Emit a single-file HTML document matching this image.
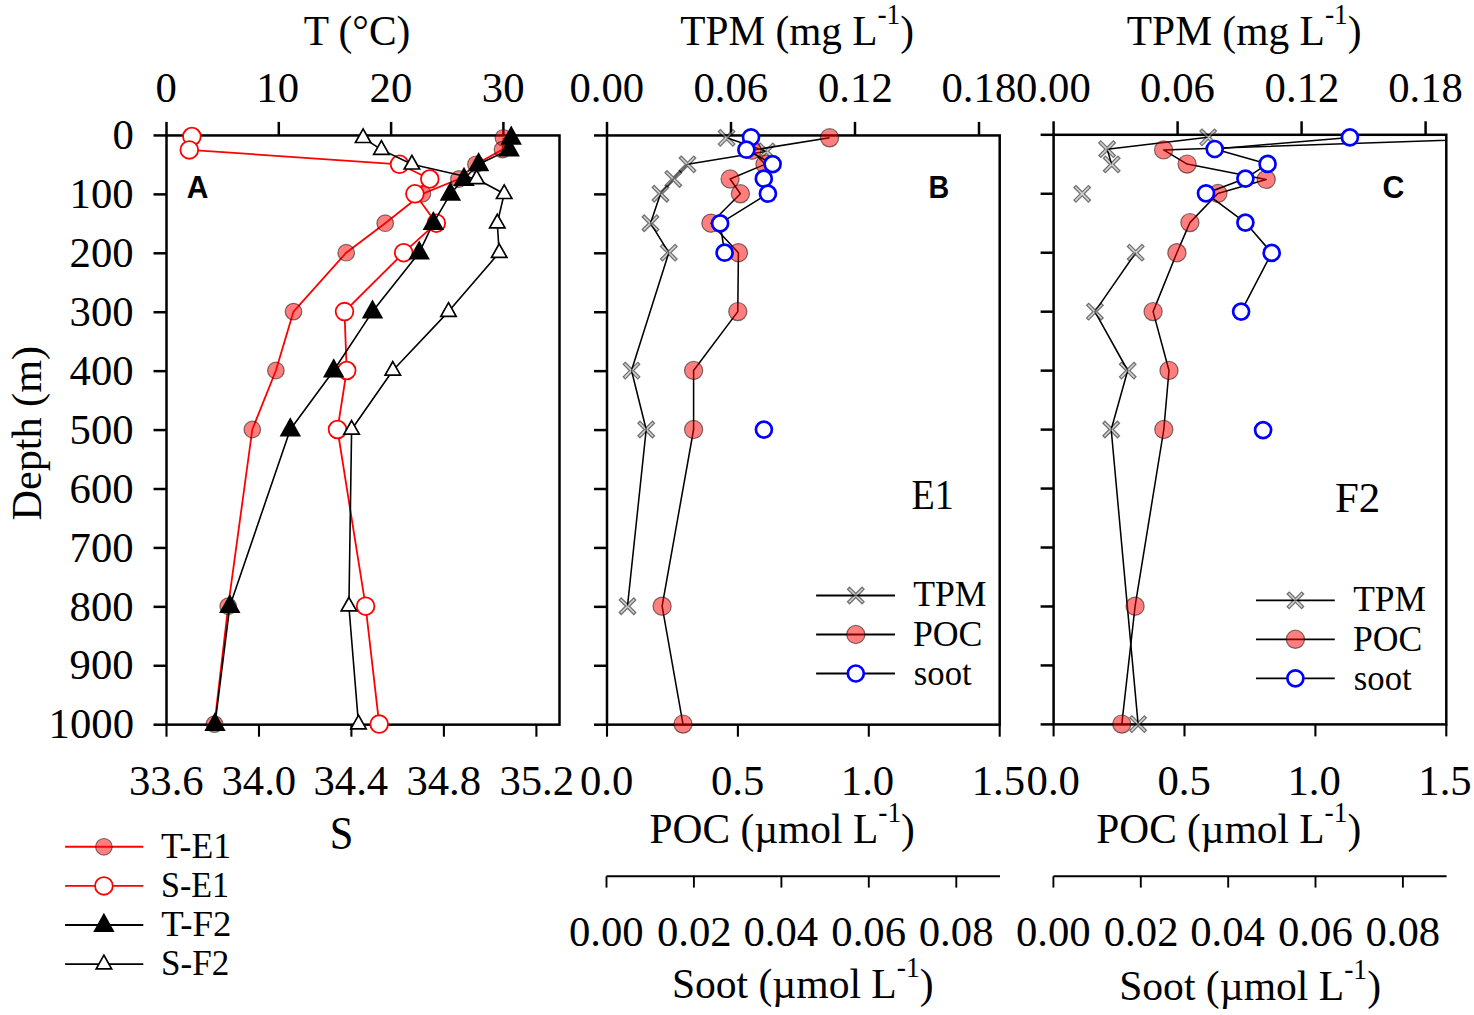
<!DOCTYPE html><html><head><meta charset="utf-8"><style>html,body{margin:0;padding:0;background:#fff;}svg{display:block;}</style></head><body>
<svg width="1474" height="1015" viewBox="0 0 1474 1015">
<rect width="1474" height="1015" fill="#fff"/>
<defs><clipPath id="cA"><rect x="166.5" y="135.45" width="393.0" height="589.25"/></clipPath><clipPath id="cB"><rect x="607.0" y="135.45" width="392.70000000000005" height="589.25"/></clipPath><clipPath id="cC"><rect x="1053.6" y="134.8" width="392.70000000000005" height="589.5999999999999"/></clipPath></defs>
<rect x="166.5" y="135.45" width="393.0" height="589.2" fill="none" stroke="#000" stroke-width="2.5"/>
<line x1="153.5" y1="135.45" x2="166.5" y2="135.45" stroke="#000" stroke-width="2.5"/>
<line x1="153.5" y1="194.38" x2="166.5" y2="194.38" stroke="#000" stroke-width="2.5"/>
<line x1="153.5" y1="253.30" x2="166.5" y2="253.30" stroke="#000" stroke-width="2.5"/>
<line x1="153.5" y1="312.23" x2="166.5" y2="312.23" stroke="#000" stroke-width="2.5"/>
<line x1="153.5" y1="371.15" x2="166.5" y2="371.15" stroke="#000" stroke-width="2.5"/>
<line x1="153.5" y1="430.07" x2="166.5" y2="430.07" stroke="#000" stroke-width="2.5"/>
<line x1="153.5" y1="489.00" x2="166.5" y2="489.00" stroke="#000" stroke-width="2.5"/>
<line x1="153.5" y1="547.92" x2="166.5" y2="547.92" stroke="#000" stroke-width="2.5"/>
<line x1="153.5" y1="606.85" x2="166.5" y2="606.85" stroke="#000" stroke-width="2.5"/>
<line x1="153.5" y1="665.78" x2="166.5" y2="665.78" stroke="#000" stroke-width="2.5"/>
<line x1="153.5" y1="724.70" x2="166.5" y2="724.70" stroke="#000" stroke-width="2.5"/>
<rect x="607.0" y="135.45" width="392.7" height="589.2" fill="none" stroke="#000" stroke-width="2.5"/>
<line x1="594.0" y1="135.45" x2="607.0" y2="135.45" stroke="#000" stroke-width="2.5"/>
<line x1="594.0" y1="194.38" x2="607.0" y2="194.38" stroke="#000" stroke-width="2.5"/>
<line x1="594.0" y1="253.30" x2="607.0" y2="253.30" stroke="#000" stroke-width="2.5"/>
<line x1="594.0" y1="312.23" x2="607.0" y2="312.23" stroke="#000" stroke-width="2.5"/>
<line x1="594.0" y1="371.15" x2="607.0" y2="371.15" stroke="#000" stroke-width="2.5"/>
<line x1="594.0" y1="430.07" x2="607.0" y2="430.07" stroke="#000" stroke-width="2.5"/>
<line x1="594.0" y1="489.00" x2="607.0" y2="489.00" stroke="#000" stroke-width="2.5"/>
<line x1="594.0" y1="547.92" x2="607.0" y2="547.92" stroke="#000" stroke-width="2.5"/>
<line x1="594.0" y1="606.85" x2="607.0" y2="606.85" stroke="#000" stroke-width="2.5"/>
<line x1="594.0" y1="665.78" x2="607.0" y2="665.78" stroke="#000" stroke-width="2.5"/>
<line x1="594.0" y1="724.70" x2="607.0" y2="724.70" stroke="#000" stroke-width="2.5"/>
<rect x="1053.6" y="134.8" width="392.7" height="589.6" fill="none" stroke="#000" stroke-width="2.5"/>
<line x1="1040.6" y1="134.80" x2="1053.6" y2="134.80" stroke="#000" stroke-width="2.5"/>
<line x1="1040.6" y1="193.76" x2="1053.6" y2="193.76" stroke="#000" stroke-width="2.5"/>
<line x1="1040.6" y1="252.72" x2="1053.6" y2="252.72" stroke="#000" stroke-width="2.5"/>
<line x1="1040.6" y1="311.68" x2="1053.6" y2="311.68" stroke="#000" stroke-width="2.5"/>
<line x1="1040.6" y1="370.64" x2="1053.6" y2="370.64" stroke="#000" stroke-width="2.5"/>
<line x1="1040.6" y1="429.60" x2="1053.6" y2="429.60" stroke="#000" stroke-width="2.5"/>
<line x1="1040.6" y1="488.56" x2="1053.6" y2="488.56" stroke="#000" stroke-width="2.5"/>
<line x1="1040.6" y1="547.52" x2="1053.6" y2="547.52" stroke="#000" stroke-width="2.5"/>
<line x1="1040.6" y1="606.48" x2="1053.6" y2="606.48" stroke="#000" stroke-width="2.5"/>
<line x1="1040.6" y1="665.44" x2="1053.6" y2="665.44" stroke="#000" stroke-width="2.5"/>
<line x1="1040.6" y1="724.40" x2="1053.6" y2="724.40" stroke="#000" stroke-width="2.5"/>
<line x1="166.5" y1="121.9" x2="166.5" y2="135.4" stroke="#000" stroke-width="2.5"/>
<line x1="278.8" y1="121.9" x2="278.8" y2="135.4" stroke="#000" stroke-width="2.5"/>
<line x1="391.1" y1="121.9" x2="391.1" y2="135.4" stroke="#000" stroke-width="2.5"/>
<line x1="503.4" y1="121.9" x2="503.4" y2="135.4" stroke="#000" stroke-width="2.5"/>
<line x1="607.0" y1="121.9" x2="607.0" y2="135.4" stroke="#000" stroke-width="2.5"/>
<line x1="731.0" y1="121.9" x2="731.0" y2="135.4" stroke="#000" stroke-width="2.5"/>
<line x1="855.0" y1="121.9" x2="855.0" y2="135.4" stroke="#000" stroke-width="2.5"/>
<line x1="979.0" y1="121.9" x2="979.0" y2="135.4" stroke="#000" stroke-width="2.5"/>
<line x1="1053.6" y1="121.3" x2="1053.6" y2="134.8" stroke="#000" stroke-width="2.5"/>
<line x1="1177.6" y1="121.3" x2="1177.6" y2="134.8" stroke="#000" stroke-width="2.5"/>
<line x1="1301.6" y1="121.3" x2="1301.6" y2="134.8" stroke="#000" stroke-width="2.5"/>
<line x1="1425.6" y1="121.3" x2="1425.6" y2="134.8" stroke="#000" stroke-width="2.5"/>
<line x1="166.5" y1="724.7" x2="166.5" y2="736.7" stroke="#000" stroke-width="2.1"/>
<line x1="259.0" y1="724.7" x2="259.0" y2="736.7" stroke="#000" stroke-width="2.1"/>
<line x1="351.4" y1="724.7" x2="351.4" y2="736.7" stroke="#000" stroke-width="2.1"/>
<line x1="443.9" y1="724.7" x2="443.9" y2="736.7" stroke="#000" stroke-width="2.1"/>
<line x1="536.4" y1="724.7" x2="536.4" y2="736.7" stroke="#000" stroke-width="2.1"/>
<line x1="607.0" y1="724.7" x2="607.0" y2="736.7" stroke="#000" stroke-width="2.1"/>
<line x1="737.9" y1="724.7" x2="737.9" y2="736.7" stroke="#000" stroke-width="2.1"/>
<line x1="868.8" y1="724.7" x2="868.8" y2="736.7" stroke="#000" stroke-width="2.1"/>
<line x1="999.7" y1="724.7" x2="999.7" y2="736.7" stroke="#000" stroke-width="2.1"/>
<line x1="1053.6" y1="724.4" x2="1053.6" y2="736.4" stroke="#000" stroke-width="2.1"/>
<line x1="1184.5" y1="724.4" x2="1184.5" y2="736.4" stroke="#000" stroke-width="2.1"/>
<line x1="1315.4" y1="724.4" x2="1315.4" y2="736.4" stroke="#000" stroke-width="2.1"/>
<line x1="1446.3" y1="724.4" x2="1446.3" y2="736.4" stroke="#000" stroke-width="2.1"/>
<g clip-path="url(#cA)"><polyline points="503.4,137.8 502.5,149.6 475.9,164.3 458.9,179.0 422.4,193.8 385.2,223.2 346.2,252.7 293.5,311.6 275.9,370.5 252.3,429.5 228.2,606.2 214.5,724.1" fill="none" stroke="#f00" stroke-width="1.8" stroke-linejoin="round"/></g>
<circle cx="503.4" cy="137.8" r="8.3" fill="#f00" fill-opacity="0.5" stroke="#000" stroke-opacity="0.5" stroke-width="1.2"/>
<circle cx="502.5" cy="149.6" r="8.3" fill="#f00" fill-opacity="0.5" stroke="#000" stroke-opacity="0.5" stroke-width="1.2"/>
<circle cx="475.9" cy="164.3" r="8.3" fill="#f00" fill-opacity="0.5" stroke="#000" stroke-opacity="0.5" stroke-width="1.2"/>
<circle cx="458.9" cy="179.0" r="8.3" fill="#f00" fill-opacity="0.5" stroke="#000" stroke-opacity="0.5" stroke-width="1.2"/>
<circle cx="422.4" cy="193.8" r="8.3" fill="#f00" fill-opacity="0.5" stroke="#000" stroke-opacity="0.5" stroke-width="1.2"/>
<circle cx="385.2" cy="223.2" r="8.3" fill="#f00" fill-opacity="0.5" stroke="#000" stroke-opacity="0.5" stroke-width="1.2"/>
<circle cx="346.2" cy="252.7" r="8.3" fill="#f00" fill-opacity="0.5" stroke="#000" stroke-opacity="0.5" stroke-width="1.2"/>
<circle cx="293.5" cy="311.6" r="8.3" fill="#f00" fill-opacity="0.5" stroke="#000" stroke-opacity="0.5" stroke-width="1.2"/>
<circle cx="275.9" cy="370.5" r="8.3" fill="#f00" fill-opacity="0.5" stroke="#000" stroke-opacity="0.5" stroke-width="1.2"/>
<circle cx="252.3" cy="429.5" r="8.3" fill="#f00" fill-opacity="0.5" stroke="#000" stroke-opacity="0.5" stroke-width="1.2"/>
<circle cx="228.2" cy="606.2" r="8.3" fill="#f00" fill-opacity="0.5" stroke="#000" stroke-opacity="0.5" stroke-width="1.2"/>
<circle cx="214.5" cy="724.1" r="8.3" fill="#f00" fill-opacity="0.5" stroke="#000" stroke-opacity="0.5" stroke-width="1.2"/>
<g clip-path="url(#cA)"><polyline points="191.9,136.5 189.3,149.9 399.5,164.3 429.8,179.0 414.9,193.8 436.3,223.2 403.7,252.7 344.5,311.6 346.7,370.5 337.5,429.5 365.6,606.2 379.2,724.1" fill="none" stroke="#f00" stroke-width="1.8" stroke-linejoin="round"/></g>
<circle cx="191.9" cy="136.5" r="8.85" fill="#fff" stroke="#f00" stroke-width="1.8"/>
<circle cx="189.3" cy="149.9" r="8.85" fill="#fff" stroke="#f00" stroke-width="1.8"/>
<circle cx="399.5" cy="164.3" r="8.85" fill="#fff" stroke="#f00" stroke-width="1.8"/>
<circle cx="429.8" cy="179.0" r="8.85" fill="#fff" stroke="#f00" stroke-width="1.8"/>
<circle cx="414.9" cy="193.8" r="8.85" fill="#fff" stroke="#f00" stroke-width="1.8"/>
<circle cx="436.3" cy="223.2" r="8.85" fill="#fff" stroke="#f00" stroke-width="1.8"/>
<circle cx="403.7" cy="252.7" r="8.85" fill="#fff" stroke="#f00" stroke-width="1.8"/>
<circle cx="344.5" cy="311.6" r="8.85" fill="#fff" stroke="#f00" stroke-width="1.8"/>
<circle cx="346.7" cy="370.5" r="8.85" fill="#fff" stroke="#f00" stroke-width="1.8"/>
<circle cx="337.5" cy="429.5" r="8.85" fill="#fff" stroke="#f00" stroke-width="1.8"/>
<circle cx="365.6" cy="606.2" r="8.85" fill="#fff" stroke="#f00" stroke-width="1.8"/>
<circle cx="379.2" cy="724.1" r="8.85" fill="#fff" stroke="#f00" stroke-width="1.8"/>
<g clip-path="url(#cA)"><polyline points="511.2,137.8 509.2,149.6 478.6,164.3 464.0,179.0 450.4,193.8 433.3,223.2 419.2,252.7 372.5,311.6 333.7,370.5 290.3,429.5 229.8,606.2 215.0,724.1" fill="none" stroke="#000" stroke-width="1.6" stroke-linejoin="round"/></g>
<polygon points="511.2,125.6 521.9,144.7 500.5,144.7" fill="#000"/>
<polygon points="509.2,137.4 519.9,156.5 498.5,156.5" fill="#000"/>
<polygon points="478.6,152.1 489.3,171.2 467.9,171.2" fill="#000"/>
<polygon points="464.0,166.8 474.7,185.9 453.3,185.9" fill="#000"/>
<polygon points="450.4,181.6 461.1,200.7 439.7,200.7" fill="#000"/>
<polygon points="433.3,211.0 444.0,230.1 422.6,230.1" fill="#000"/>
<polygon points="419.2,240.5 429.9,259.6 408.5,259.6" fill="#000"/>
<polygon points="372.5,299.4 383.2,318.5 361.8,318.5" fill="#000"/>
<polygon points="333.7,358.3 344.4,377.4 323.0,377.4" fill="#000"/>
<polygon points="290.3,417.3 301.0,436.4 279.6,436.4" fill="#000"/>
<polygon points="229.8,594.0 240.5,613.1 219.1,613.1" fill="#000"/>
<polygon points="215.0,711.9 225.7,731.0 204.3,731.0" fill="#000"/>
<g clip-path="url(#cA)"><polyline points="363.1,137.8 381.4,149.6 411.9,164.3 476.6,179.0 504.2,193.8 497.3,223.2 499.2,252.7 448.5,311.6 392.8,370.5 351.6,429.5 348.9,606.2 358.5,724.1" fill="none" stroke="#000" stroke-width="1.6" stroke-linejoin="round"/></g>
<polygon points="363.1,128.9 370.8,142.5 355.4,142.5" fill="#fff" stroke="#000" stroke-width="1.7" stroke-linejoin="miter"/>
<polygon points="381.4,140.7 389.1,154.3 373.7,154.3" fill="#fff" stroke="#000" stroke-width="1.7" stroke-linejoin="miter"/>
<polygon points="411.9,155.4 419.6,169.0 404.2,169.0" fill="#fff" stroke="#000" stroke-width="1.7" stroke-linejoin="miter"/>
<polygon points="476.6,170.1 484.3,183.7 468.9,183.7" fill="#fff" stroke="#000" stroke-width="1.7" stroke-linejoin="miter"/>
<polygon points="504.2,184.9 511.9,198.5 496.5,198.5" fill="#fff" stroke="#000" stroke-width="1.7" stroke-linejoin="miter"/>
<polygon points="497.3,214.3 505.0,227.9 489.6,227.9" fill="#fff" stroke="#000" stroke-width="1.7" stroke-linejoin="miter"/>
<polygon points="499.2,243.8 506.9,257.4 491.5,257.4" fill="#fff" stroke="#000" stroke-width="1.7" stroke-linejoin="miter"/>
<polygon points="448.5,302.7 456.2,316.3 440.8,316.3" fill="#fff" stroke="#000" stroke-width="1.7" stroke-linejoin="miter"/>
<polygon points="392.8,361.6 400.5,375.2 385.1,375.2" fill="#fff" stroke="#000" stroke-width="1.7" stroke-linejoin="miter"/>
<polygon points="351.6,420.6 359.3,434.2 343.9,434.2" fill="#fff" stroke="#000" stroke-width="1.7" stroke-linejoin="miter"/>
<polygon points="348.9,597.3 356.6,610.9 341.2,610.9" fill="#fff" stroke="#000" stroke-width="1.7" stroke-linejoin="miter"/>
<polygon points="358.5,715.2 366.2,728.8 350.8,728.8" fill="#fff" stroke="#000" stroke-width="1.7" stroke-linejoin="miter"/>
<g clip-path="url(#cB)"><polyline points="726.6,137.8 766.5,151.3 687.5,164.3 673.3,179.0 660.5,193.8 650.5,223.2 668.8,252.7 631.5,370.5 646.2,429.5 627.5,606.2" fill="none" stroke="#000" stroke-width="1.55" stroke-linejoin="round"/></g>
<g opacity="0.55"><path d="M720.33,130.47 L733.93,144.07 L732.87,145.13 L719.27,131.53Z M719.27,144.07 L732.87,130.47 L733.93,131.53 L720.33,145.13Z" fill="none" stroke="#000" stroke-width="2.6"/><path d="M720.33,130.47 L733.93,144.07 L732.87,145.13 L719.27,131.53Z M719.27,144.07 L732.87,130.47 L733.93,131.53 L720.33,145.13Z" fill="#b0b0b0" stroke="none"/></g>
<g opacity="0.55"><path d="M760.23,143.97 L773.83,157.57 L772.77,158.63 L759.17,145.03Z M759.17,157.57 L772.77,143.97 L773.83,145.03 L760.23,158.63Z" fill="none" stroke="#000" stroke-width="2.6"/><path d="M760.23,143.97 L773.83,157.57 L772.77,158.63 L759.17,145.03Z M759.17,157.57 L772.77,143.97 L773.83,145.03 L760.23,158.63Z" fill="#b0b0b0" stroke="none"/></g>
<g opacity="0.55"><path d="M681.23,156.98 L694.83,170.58 L693.77,171.64 L680.17,158.04Z M680.17,170.58 L693.77,156.98 L694.83,158.04 L681.23,171.64Z" fill="none" stroke="#000" stroke-width="2.6"/><path d="M681.23,156.98 L694.83,170.58 L693.77,171.64 L680.17,158.04Z M680.17,170.58 L693.77,156.98 L694.83,158.04 L681.23,171.64Z" fill="#b0b0b0" stroke="none"/></g>
<g opacity="0.55"><path d="M667.03,171.71 L680.63,185.31 L679.57,186.37 L665.97,172.77Z M665.97,185.31 L679.57,171.71 L680.63,172.77 L667.03,186.37Z" fill="none" stroke="#000" stroke-width="2.6"/><path d="M667.03,171.71 L680.63,185.31 L679.57,186.37 L665.97,172.77Z M665.97,185.31 L679.57,171.71 L680.63,172.77 L667.03,186.37Z" fill="#b0b0b0" stroke="none"/></g>
<g opacity="0.55"><path d="M654.23,186.44 L667.83,200.04 L666.77,201.11 L653.17,187.51Z M653.17,200.04 L666.77,186.44 L667.83,187.51 L654.23,201.11Z" fill="none" stroke="#000" stroke-width="2.6"/><path d="M654.23,186.44 L667.83,200.04 L666.77,201.11 L653.17,187.51Z M653.17,200.04 L666.77,186.44 L667.83,187.51 L654.23,201.11Z" fill="#b0b0b0" stroke="none"/></g>
<g opacity="0.55"><path d="M644.23,215.91 L657.83,229.51 L656.77,230.57 L643.17,216.97Z M643.17,229.51 L656.77,215.91 L657.83,216.97 L644.23,230.57Z" fill="none" stroke="#000" stroke-width="2.6"/><path d="M644.23,215.91 L657.83,229.51 L656.77,230.57 L643.17,216.97Z M643.17,229.51 L656.77,215.91 L657.83,216.97 L644.23,230.57Z" fill="#b0b0b0" stroke="none"/></g>
<g opacity="0.55"><path d="M662.53,245.37 L676.13,258.97 L675.07,260.03 L661.47,246.43Z M661.47,258.97 L675.07,245.37 L676.13,246.43 L662.53,260.03Z" fill="none" stroke="#000" stroke-width="2.6"/><path d="M662.53,245.37 L676.13,258.97 L675.07,260.03 L661.47,246.43Z M661.47,258.97 L675.07,245.37 L676.13,246.43 L662.53,260.03Z" fill="#b0b0b0" stroke="none"/></g>
<g opacity="0.55"><path d="M625.23,363.22 L638.83,376.82 L637.77,377.88 L624.17,364.28Z M624.17,376.82 L637.77,363.22 L638.83,364.28 L625.23,377.88Z" fill="none" stroke="#000" stroke-width="2.6"/><path d="M625.23,363.22 L638.83,376.82 L637.77,377.88 L624.17,364.28Z M624.17,376.82 L637.77,363.22 L638.83,364.28 L625.23,377.88Z" fill="#b0b0b0" stroke="none"/></g>
<g opacity="0.55"><path d="M639.93,422.14 L653.53,435.74 L652.47,436.81 L638.87,423.21Z M638.87,435.74 L652.47,422.14 L653.53,423.21 L639.93,436.81Z" fill="none" stroke="#000" stroke-width="2.6"/><path d="M639.93,422.14 L653.53,435.74 L652.47,436.81 L638.87,423.21Z M638.87,435.74 L652.47,422.14 L653.53,423.21 L639.93,436.81Z" fill="#b0b0b0" stroke="none"/></g>
<g opacity="0.55"><path d="M621.23,598.92 L634.83,612.52 L633.77,613.58 L620.17,599.98Z M620.17,612.52 L633.77,598.92 L634.83,599.98 L621.23,613.58Z" fill="none" stroke="#000" stroke-width="2.6"/><path d="M621.23,598.92 L634.83,612.52 L633.77,613.58 L620.17,599.98Z M620.17,612.52 L633.77,598.92 L634.83,599.98 L621.23,613.58Z" fill="#b0b0b0" stroke="none"/></g>
<g clip-path="url(#cB)"><polyline points="829.6,137.8 752.0,150.2 765.0,164.3 730.1,179.0 740.4,193.8 710.9,223.2 738.4,252.7 737.8,311.6 693.6,370.5 693.6,429.5 662.1,606.2 683.0,724.1" fill="none" stroke="#000" stroke-width="1.55" stroke-linejoin="round"/></g>
<circle cx="829.6" cy="137.8" r="9.1" fill="#f00" fill-opacity="0.5" stroke="#000" stroke-opacity="0.5" stroke-width="1.2"/>
<circle cx="752.0" cy="150.2" r="9.1" fill="#f00" fill-opacity="0.5" stroke="#000" stroke-opacity="0.5" stroke-width="1.2"/>
<circle cx="765.0" cy="164.3" r="9.1" fill="#f00" fill-opacity="0.5" stroke="#000" stroke-opacity="0.5" stroke-width="1.2"/>
<circle cx="730.1" cy="179.0" r="9.1" fill="#f00" fill-opacity="0.5" stroke="#000" stroke-opacity="0.5" stroke-width="1.2"/>
<circle cx="740.4" cy="193.8" r="9.1" fill="#f00" fill-opacity="0.5" stroke="#000" stroke-opacity="0.5" stroke-width="1.2"/>
<circle cx="710.9" cy="223.2" r="9.1" fill="#f00" fill-opacity="0.5" stroke="#000" stroke-opacity="0.5" stroke-width="1.2"/>
<circle cx="738.4" cy="252.7" r="9.1" fill="#f00" fill-opacity="0.5" stroke="#000" stroke-opacity="0.5" stroke-width="1.2"/>
<circle cx="737.8" cy="311.6" r="9.1" fill="#f00" fill-opacity="0.5" stroke="#000" stroke-opacity="0.5" stroke-width="1.2"/>
<circle cx="693.6" cy="370.5" r="9.1" fill="#f00" fill-opacity="0.5" stroke="#000" stroke-opacity="0.5" stroke-width="1.2"/>
<circle cx="693.6" cy="429.5" r="9.1" fill="#f00" fill-opacity="0.5" stroke="#000" stroke-opacity="0.5" stroke-width="1.2"/>
<circle cx="662.1" cy="606.2" r="9.1" fill="#f00" fill-opacity="0.5" stroke="#000" stroke-opacity="0.5" stroke-width="1.2"/>
<circle cx="683.0" cy="724.1" r="9.1" fill="#f00" fill-opacity="0.5" stroke="#000" stroke-opacity="0.5" stroke-width="1.2"/>
<g clip-path="url(#cB)"><polyline points="751.0,137.3 746.4,149.7 772.6,164.1 763.8,178.7 767.9,193.7 720.1,223.4 724.6,252.7" fill="none" stroke="#000" stroke-width="1.55" stroke-linejoin="round"/></g>
<circle cx="751.0" cy="137.3" r="8.0" fill="#fff" stroke="#00f" stroke-width="2.7"/>
<circle cx="746.4" cy="149.7" r="8.0" fill="#fff" stroke="#00f" stroke-width="2.7"/>
<circle cx="772.6" cy="164.1" r="8.0" fill="#fff" stroke="#00f" stroke-width="2.7"/>
<circle cx="763.8" cy="178.7" r="8.0" fill="#fff" stroke="#00f" stroke-width="2.7"/>
<circle cx="767.9" cy="193.7" r="8.0" fill="#fff" stroke="#00f" stroke-width="2.7"/>
<circle cx="720.1" cy="223.4" r="8.0" fill="#fff" stroke="#00f" stroke-width="2.7"/>
<circle cx="724.6" cy="252.7" r="8.0" fill="#fff" stroke="#00f" stroke-width="2.7"/>
<circle cx="763.9" cy="429.6" r="8.0" fill="#fff" stroke="#00f" stroke-width="2.7"/>
<g clip-path="url(#cC)"><polyline points="1208.2,137.3 1107.1,149.2 1111.7,164.4" fill="none" stroke="#000" stroke-width="1.55" stroke-linejoin="round"/></g>
<g opacity="0.55"><path d="M1201.93,129.97 L1215.53,143.57 L1214.47,144.63 L1200.87,131.03Z M1200.87,143.57 L1214.47,129.97 L1215.53,131.03 L1201.93,144.63Z" fill="none" stroke="#000" stroke-width="2.6"/><path d="M1201.93,129.97 L1215.53,143.57 L1214.47,144.63 L1200.87,131.03Z M1200.87,143.57 L1214.47,129.97 L1215.53,131.03 L1201.93,144.63Z" fill="#b0b0b0" stroke="none"/></g>
<g opacity="0.55"><path d="M1100.83,141.87 L1114.43,155.47 L1113.37,156.53 L1099.77,142.93Z M1099.77,155.47 L1113.37,141.87 L1114.43,142.93 L1100.83,156.53Z" fill="none" stroke="#000" stroke-width="2.6"/><path d="M1100.83,141.87 L1114.43,155.47 L1113.37,156.53 L1099.77,142.93Z M1099.77,155.47 L1113.37,141.87 L1114.43,142.93 L1100.83,156.53Z" fill="#b0b0b0" stroke="none"/></g>
<g opacity="0.55"><path d="M1105.43,157.07 L1119.03,170.67 L1117.97,171.73 L1104.37,158.13Z M1104.37,170.67 L1117.97,157.07 L1119.03,158.13 L1105.43,171.73Z" fill="none" stroke="#000" stroke-width="2.6"/><path d="M1105.43,157.07 L1119.03,170.67 L1117.97,171.73 L1104.37,158.13Z M1104.37,170.67 L1117.97,157.07 L1119.03,158.13 L1105.43,171.73Z" fill="#b0b0b0" stroke="none"/></g>
<g opacity="0.55"><path d="M1075.93,186.47 L1089.53,200.07 L1088.47,201.13 L1074.87,187.53Z M1074.87,200.07 L1088.47,186.47 L1089.53,187.53 L1075.93,201.13Z" fill="none" stroke="#000" stroke-width="2.6"/><path d="M1075.93,186.47 L1089.53,200.07 L1088.47,201.13 L1074.87,187.53Z M1074.87,200.07 L1088.47,186.47 L1089.53,187.53 L1075.93,201.13Z" fill="#b0b0b0" stroke="none"/></g>
<g clip-path="url(#cC)"><polyline points="1135.7,252.7 1094.9,311.6 1127.7,370.5 1111.2,429.5 1138.1,724.1" fill="none" stroke="#000" stroke-width="1.55" stroke-linejoin="round"/></g>
<g opacity="0.55"><path d="M1129.43,245.37 L1143.03,258.97 L1141.97,260.03 L1128.37,246.43Z M1128.37,258.97 L1141.97,245.37 L1143.03,246.43 L1129.43,260.03Z" fill="none" stroke="#000" stroke-width="2.6"/><path d="M1129.43,245.37 L1143.03,258.97 L1141.97,260.03 L1128.37,246.43Z M1128.37,258.97 L1141.97,245.37 L1143.03,246.43 L1129.43,260.03Z" fill="#b0b0b0" stroke="none"/></g>
<g opacity="0.55"><path d="M1088.63,304.29 L1102.23,317.89 L1101.17,318.96 L1087.57,305.36Z M1087.57,317.89 L1101.17,304.29 L1102.23,305.36 L1088.63,318.96Z" fill="none" stroke="#000" stroke-width="2.6"/><path d="M1088.63,304.29 L1102.23,317.89 L1101.17,318.96 L1087.57,305.36Z M1087.57,317.89 L1101.17,304.29 L1102.23,305.36 L1088.63,318.96Z" fill="#b0b0b0" stroke="none"/></g>
<g opacity="0.55"><path d="M1121.43,363.22 L1135.03,376.82 L1133.97,377.88 L1120.37,364.28Z M1120.37,376.82 L1133.97,363.22 L1135.03,364.28 L1121.43,377.88Z" fill="none" stroke="#000" stroke-width="2.6"/><path d="M1121.43,363.22 L1135.03,376.82 L1133.97,377.88 L1120.37,364.28Z M1120.37,376.82 L1133.97,363.22 L1135.03,364.28 L1121.43,377.88Z" fill="#b0b0b0" stroke="none"/></g>
<g opacity="0.55"><path d="M1104.93,422.14 L1118.53,435.74 L1117.47,436.81 L1103.87,423.21Z M1103.87,435.74 L1117.47,422.14 L1118.53,423.21 L1104.93,436.81Z" fill="none" stroke="#000" stroke-width="2.6"/><path d="M1104.93,422.14 L1118.53,435.74 L1117.47,436.81 L1103.87,423.21Z M1103.87,435.74 L1117.47,422.14 L1118.53,423.21 L1104.93,436.81Z" fill="#b0b0b0" stroke="none"/></g>
<g opacity="0.55"><path d="M1131.83,716.77 L1145.43,730.37 L1144.37,731.43 L1130.77,717.83Z M1130.77,730.37 L1144.37,716.77 L1145.43,717.83 L1131.83,731.43Z" fill="none" stroke="#000" stroke-width="2.6"/><path d="M1131.83,716.77 L1145.43,730.37 L1144.37,731.43 L1130.77,717.83Z M1130.77,730.37 L1144.37,716.77 L1145.43,717.83 L1131.83,731.43Z" fill="#b0b0b0" stroke="none"/></g>
<g clip-path="url(#cC)"><polyline points="1519.0,137.8 1163.6,149.9 1187.1,164.1 1266.2,179.4 1217.9,193.5 1189.9,222.6 1176.9,252.7 1153.1,311.6 1169.0,370.5 1163.8,429.5 1135.1,606.2 1121.8,724.1" fill="none" stroke="#000" stroke-width="1.55" stroke-linejoin="round"/></g>
<circle cx="1163.6" cy="149.9" r="9.1" fill="#f00" fill-opacity="0.5" stroke="#000" stroke-opacity="0.5" stroke-width="1.2"/>
<circle cx="1187.1" cy="164.1" r="9.1" fill="#f00" fill-opacity="0.5" stroke="#000" stroke-opacity="0.5" stroke-width="1.2"/>
<circle cx="1266.2" cy="179.4" r="9.1" fill="#f00" fill-opacity="0.5" stroke="#000" stroke-opacity="0.5" stroke-width="1.2"/>
<circle cx="1217.9" cy="193.5" r="9.1" fill="#f00" fill-opacity="0.5" stroke="#000" stroke-opacity="0.5" stroke-width="1.2"/>
<circle cx="1189.9" cy="222.6" r="9.1" fill="#f00" fill-opacity="0.5" stroke="#000" stroke-opacity="0.5" stroke-width="1.2"/>
<circle cx="1176.9" cy="252.7" r="9.1" fill="#f00" fill-opacity="0.5" stroke="#000" stroke-opacity="0.5" stroke-width="1.2"/>
<circle cx="1153.1" cy="311.6" r="9.1" fill="#f00" fill-opacity="0.5" stroke="#000" stroke-opacity="0.5" stroke-width="1.2"/>
<circle cx="1169.0" cy="370.5" r="9.1" fill="#f00" fill-opacity="0.5" stroke="#000" stroke-opacity="0.5" stroke-width="1.2"/>
<circle cx="1163.8" cy="429.5" r="9.1" fill="#f00" fill-opacity="0.5" stroke="#000" stroke-opacity="0.5" stroke-width="1.2"/>
<circle cx="1135.1" cy="606.2" r="9.1" fill="#f00" fill-opacity="0.5" stroke="#000" stroke-opacity="0.5" stroke-width="1.2"/>
<circle cx="1121.8" cy="724.1" r="9.1" fill="#f00" fill-opacity="0.5" stroke="#000" stroke-opacity="0.5" stroke-width="1.2"/>
<g clip-path="url(#cC)"><polyline points="1349.9,137.4 1214.7,149.0 1267.6,163.9 1245.4,178.6 1206.0,193.3 1245.4,222.6 1271.7,252.9 1241.1,311.6" fill="none" stroke="#000" stroke-width="1.55" stroke-linejoin="round"/></g>
<circle cx="1349.9" cy="137.4" r="8.0" fill="#fff" stroke="#00f" stroke-width="2.7"/>
<circle cx="1214.7" cy="149.0" r="8.0" fill="#fff" stroke="#00f" stroke-width="2.7"/>
<circle cx="1267.6" cy="163.9" r="8.0" fill="#fff" stroke="#00f" stroke-width="2.7"/>
<circle cx="1245.4" cy="178.6" r="8.0" fill="#fff" stroke="#00f" stroke-width="2.7"/>
<circle cx="1206.0" cy="193.3" r="8.0" fill="#fff" stroke="#00f" stroke-width="2.7"/>
<circle cx="1245.4" cy="222.6" r="8.0" fill="#fff" stroke="#00f" stroke-width="2.7"/>
<circle cx="1271.7" cy="252.9" r="8.0" fill="#fff" stroke="#00f" stroke-width="2.7"/>
<circle cx="1241.1" cy="311.6" r="8.0" fill="#fff" stroke="#00f" stroke-width="2.7"/>
<circle cx="1263.1" cy="430.1" r="8.0" fill="#fff" stroke="#00f" stroke-width="2.7"/>
<line x1="606.5" y1="876.3" x2="1000.0" y2="876.3" stroke="#000" stroke-width="2.0"/>
<line x1="606.5" y1="876.3" x2="606.5" y2="887.6" stroke="#000" stroke-width="1.9"/>
<line x1="693.9" y1="876.3" x2="693.9" y2="887.6" stroke="#000" stroke-width="1.9"/>
<line x1="781.4" y1="876.3" x2="781.4" y2="887.6" stroke="#000" stroke-width="1.9"/>
<line x1="868.8" y1="876.3" x2="868.8" y2="887.6" stroke="#000" stroke-width="1.9"/>
<line x1="956.3" y1="876.3" x2="956.3" y2="887.6" stroke="#000" stroke-width="1.9"/>
<line x1="1053.4" y1="876.3" x2="1446.6" y2="876.3" stroke="#000" stroke-width="2.0"/>
<line x1="1053.4" y1="876.3" x2="1053.4" y2="887.6" stroke="#000" stroke-width="1.9"/>
<line x1="1140.8" y1="876.3" x2="1140.8" y2="887.6" stroke="#000" stroke-width="1.9"/>
<line x1="1228.2" y1="876.3" x2="1228.2" y2="887.6" stroke="#000" stroke-width="1.9"/>
<line x1="1315.5" y1="876.3" x2="1315.5" y2="887.6" stroke="#000" stroke-width="1.9"/>
<line x1="1402.9" y1="876.3" x2="1402.9" y2="887.6" stroke="#000" stroke-width="1.9"/>
<text transform="translate(303.64,44.80) scale(0.9630,1)" font-family='"Liberation Serif", serif' font-size="43" font-weight="normal">T (<tspan dy="-1.3">°</tspan><tspan dy="1.3">C)</tspan></text>
<text transform="translate(680.24,44.80) scale(0.9602,1)" font-family='"Liberation Serif", serif' font-size="43" font-weight="normal">TPM (mg L<tspan dy="-21" font-size="28.5">-1</tspan><tspan dy="21">)</tspan></text>
<text transform="translate(1126.74,44.50) scale(0.9647,1)" font-family='"Liberation Serif", serif' font-size="43" font-weight="normal">TPM (mg L<tspan dy="-21" font-size="28.5">-1</tspan><tspan dy="21">)</tspan></text>
<text transform="translate(649.44,842.70) scale(0.9641,1)" font-family='"Liberation Serif", serif' font-size="43" font-weight="normal">POC (µmol L<tspan dy="-21" font-size="28.5">-1</tspan><tspan dy="21">)</tspan></text>
<text transform="translate(1096.34,843.00) scale(0.9619,1)" font-family='"Liberation Serif", serif' font-size="43" font-weight="normal">POC (µmol L<tspan dy="-21" font-size="28.5">-1</tspan><tspan dy="21">)</tspan></text>
<text transform="translate(671.90,997.70) scale(0.9669,1)" font-family='"Liberation Serif", serif' font-size="43" font-weight="normal">Soot (µmol L<tspan dy="-21" font-size="28.5">-1</tspan><tspan dy="21">)</tspan></text>
<text transform="translate(1119.20,999.50) scale(0.9673,1)" font-family='"Liberation Serif", serif' font-size="43" font-weight="normal">Soot (µmol L<tspan dy="-21" font-size="28.5">-1</tspan><tspan dy="21">)</tspan></text>
<text transform="translate(329.69,849.30) scale(0.9350,1)" font-family='"Liberation Serif", serif' font-size="45.5" font-weight="normal">S</text>
<text transform="translate(40.50,520.48) rotate(-90) scale(0.9811,1)" font-family='"Liberation Serif", serif' font-size="43" font-weight="normal">Depth (m)</text>
<text transform="translate(911.39,509.20) scale(0.9070,1)" font-family='"Liberation Serif", serif' font-size="42" font-weight="normal">E1</text>
<text transform="translate(1334.98,512.20) scale(1.0220,1)" font-family='"Liberation Serif", serif' font-size="42" font-weight="normal">F2</text>
<text transform="translate(161.09,857.70) scale(1.0060,1)" font-family='"Liberation Serif", serif' font-size="35.5" font-weight="normal">T-E1</text>
<text transform="translate(160.98,897.00) scale(0.9582,1)" font-family='"Liberation Serif", serif' font-size="35.5" font-weight="normal">S-E1</text>
<text transform="translate(161.16,935.60) scale(1.0369,1)" font-family='"Liberation Serif", serif' font-size="35.5" font-weight="normal">T-F2</text>
<text transform="translate(161.02,975.40) scale(0.9877,1)" font-family='"Liberation Serif", serif' font-size="35.5" font-weight="normal">S-F2</text>
<text transform="translate(913.19,606.00) scale(1.0056,1)" font-family='"Liberation Serif", serif' font-size="35.5" font-weight="normal">TPM</text>
<text transform="translate(912.89,645.50) scale(1.0076,1)" font-family='"Liberation Serif", serif' font-size="35.5" font-weight="normal">POC</text>
<text transform="translate(913.82,684.60) scale(0.9776,1)" font-family='"Liberation Serif", serif' font-size="35.5" font-weight="normal">soot</text>
<text transform="translate(1353.20,611.00) scale(0.9972,1)" font-family='"Liberation Serif", serif' font-size="35.5" font-weight="normal">TPM</text>
<text transform="translate(1352.90,650.80) scale(1.0030,1)" font-family='"Liberation Serif", serif' font-size="35.5" font-weight="normal">POC</text>
<text transform="translate(1353.82,689.60) scale(0.9776,1)" font-family='"Liberation Serif", serif' font-size="35.5" font-weight="normal">soot</text>
<text transform="translate(186.73,198.20) scale(0.9667,1)" font-family='"Liberation Sans", sans-serif' font-size="31" font-weight="bold">A</text>
<text transform="translate(928.55,198.20) scale(0.9263,1)" font-family='"Liberation Sans", sans-serif' font-size="31" font-weight="bold">B</text>
<text transform="translate(1382.53,198.20) scale(0.9750,1)" font-family='"Liberation Sans", sans-serif' font-size="31" font-weight="bold">C</text>
<text x="155.50" y="102.00" font-family='"Liberation Serif", serif' font-size="42.7">0</text>
<text x="256.29" y="102.00" font-family='"Liberation Serif", serif' font-size="42.7">10</text>
<text x="369.57" y="102.00" font-family='"Liberation Serif", serif' font-size="42.7">20</text>
<text x="481.86" y="102.00" font-family='"Liberation Serif", serif' font-size="42.7">30</text>
<text x="569.50" y="102.00" font-family='"Liberation Serif", serif' font-size="42.7">0.00</text>
<text x="693.51" y="102.00" font-family='"Liberation Serif", serif' font-size="42.7">0.06</text>
<text x="818.02" y="102.00" font-family='"Liberation Serif", serif' font-size="42.7">0.12</text>
<text x="941.53" y="102.00" font-family='"Liberation Serif", serif' font-size="42.7">0.18</text>
<text x="1016.10" y="102.00" font-family='"Liberation Serif", serif' font-size="42.7">0.00</text>
<text x="1140.11" y="102.00" font-family='"Liberation Serif", serif' font-size="42.7">0.06</text>
<text x="1264.62" y="102.00" font-family='"Liberation Serif", serif' font-size="42.7">0.12</text>
<text x="1388.13" y="102.00" font-family='"Liberation Serif", serif' font-size="42.7">0.18</text>
<text x="129.00" y="795.10" font-family='"Liberation Serif", serif' font-size="42.7">33.6</text>
<text x="221.47" y="795.10" font-family='"Liberation Serif", serif' font-size="42.7">34.0</text>
<text x="313.44" y="795.10" font-family='"Liberation Serif", serif' font-size="42.7">34.4</text>
<text x="406.41" y="795.10" font-family='"Liberation Serif", serif' font-size="42.7">34.8</text>
<text x="499.38" y="795.10" font-family='"Liberation Serif", serif' font-size="42.7">35.2</text>
<text x="580.00" y="795.10" font-family='"Liberation Serif", serif' font-size="42.7">0.0</text>
<text x="710.90" y="795.10" font-family='"Liberation Serif", serif' font-size="42.7">0.5</text>
<text x="840.80" y="795.10" font-family='"Liberation Serif", serif' font-size="42.7">1.0</text>
<text x="971.70" y="795.10" font-family='"Liberation Serif", serif' font-size="42.7">1.5</text>
<text x="1026.60" y="795.10" font-family='"Liberation Serif", serif' font-size="42.7">0.0</text>
<text x="1157.50" y="795.10" font-family='"Liberation Serif", serif' font-size="42.7">0.5</text>
<text x="1287.40" y="795.10" font-family='"Liberation Serif", serif' font-size="42.7">1.0</text>
<text x="1418.30" y="795.10" font-family='"Liberation Serif", serif' font-size="42.7">1.5</text>
<text x="569.00" y="946.00" font-family='"Liberation Serif", serif' font-size="42.7">0.00</text>
<text x="656.94" y="946.00" font-family='"Liberation Serif", serif' font-size="42.7">0.02</text>
<text x="743.39" y="946.00" font-family='"Liberation Serif", serif' font-size="42.7">0.04</text>
<text x="831.33" y="946.00" font-family='"Liberation Serif", serif' font-size="42.7">0.06</text>
<text x="918.78" y="946.00" font-family='"Liberation Serif", serif' font-size="42.7">0.08</text>
<text x="1015.90" y="945.80" font-family='"Liberation Serif", serif' font-size="42.7">0.00</text>
<text x="1103.78" y="945.80" font-family='"Liberation Serif", serif' font-size="42.7">0.02</text>
<text x="1190.16" y="945.80" font-family='"Liberation Serif", serif' font-size="42.7">0.04</text>
<text x="1278.03" y="945.80" font-family='"Liberation Serif", serif' font-size="42.7">0.06</text>
<text x="1365.41" y="945.80" font-family='"Liberation Serif", serif' font-size="42.7">0.08</text>
<text x="112.60" y="149.15" font-family='"Liberation Serif", serif' font-size="42.7">0</text>
<text x="69.60" y="208.07" font-family='"Liberation Serif", serif' font-size="42.7">100</text>
<text x="69.60" y="267.00" font-family='"Liberation Serif", serif' font-size="42.7">200</text>
<text x="69.60" y="325.93" font-family='"Liberation Serif", serif' font-size="42.7">300</text>
<text x="69.60" y="384.85" font-family='"Liberation Serif", serif' font-size="42.7">400</text>
<text x="69.60" y="443.77" font-family='"Liberation Serif", serif' font-size="42.7">500</text>
<text x="69.60" y="502.70" font-family='"Liberation Serif", serif' font-size="42.7">600</text>
<text x="69.60" y="561.62" font-family='"Liberation Serif", serif' font-size="42.7">700</text>
<text x="69.60" y="620.55" font-family='"Liberation Serif", serif' font-size="42.7">800</text>
<text x="69.60" y="679.48" font-family='"Liberation Serif", serif' font-size="42.7">900</text>
<text x="48.60" y="738.40" font-family='"Liberation Serif", serif' font-size="42.7">1000</text>
<line x1="65.1" y1="846.8" x2="143.3" y2="846.8" stroke="#f00" stroke-width="1.9"/>
<circle cx="103.9" cy="846.8" r="8.3" fill="#f00" fill-opacity="0.5" stroke="#000" stroke-opacity="0.5" stroke-width="1.2"/>
<line x1="65.1" y1="885.9" x2="143.3" y2="885.9" stroke="#f00" stroke-width="1.9"/>
<circle cx="103.9" cy="885.9" r="8.85" fill="#fff" stroke="#f00" stroke-width="1.8"/>
<line x1="65.1" y1="925.0" x2="143.3" y2="925.0" stroke="#000" stroke-width="1.9"/>
<polygon points="103.9,912.8 114.6,931.9 93.2,931.9" fill="#000"/>
<line x1="65.1" y1="964.1" x2="143.3" y2="964.1" stroke="#000" stroke-width="1.9"/>
<polygon points="103.9,955.2 111.6,968.8 96.2,968.8" fill="#fff" stroke="#000" stroke-width="1.7" stroke-linejoin="miter"/>
<line x1="816.1" y1="595.5" x2="895.0" y2="595.5" stroke="#000" stroke-width="1.8"/>
<g opacity="0.55"><path d="M849.53,588.17 L863.13,601.77 L862.07,602.83 L848.47,589.23Z M848.47,601.77 L862.07,588.17 L863.13,589.23 L849.53,602.83Z" fill="none" stroke="#000" stroke-width="2.6"/><path d="M849.53,588.17 L863.13,601.77 L862.07,602.83 L848.47,589.23Z M848.47,601.77 L862.07,588.17 L863.13,589.23 L849.53,602.83Z" fill="#b0b0b0" stroke="none"/></g>
<line x1="816.1" y1="634.5" x2="895.0" y2="634.5" stroke="#000" stroke-width="1.8"/>
<circle cx="855.8" cy="634.5" r="9.1" fill="#f00" fill-opacity="0.5" stroke="#000" stroke-opacity="0.5" stroke-width="1.2"/>
<line x1="816.1" y1="673.5" x2="895.0" y2="673.5" stroke="#000" stroke-width="1.8"/>
<circle cx="855.8" cy="673.5" r="8.0" fill="#fff" stroke="#00f" stroke-width="2.7"/>
<line x1="1256.0" y1="600.3" x2="1334.8" y2="600.3" stroke="#000" stroke-width="1.8"/>
<g opacity="0.55"><path d="M1289.13,592.97 L1302.73,606.57 L1301.67,607.63 L1288.07,594.03Z M1288.07,606.57 L1301.67,592.97 L1302.73,594.03 L1289.13,607.63Z" fill="none" stroke="#000" stroke-width="2.6"/><path d="M1289.13,592.97 L1302.73,606.57 L1301.67,607.63 L1288.07,594.03Z M1288.07,606.57 L1301.67,592.97 L1302.73,594.03 L1289.13,607.63Z" fill="#b0b0b0" stroke="none"/></g>
<line x1="1256.0" y1="639.3" x2="1334.8" y2="639.3" stroke="#000" stroke-width="1.8"/>
<circle cx="1295.4" cy="639.3" r="9.1" fill="#f00" fill-opacity="0.5" stroke="#000" stroke-opacity="0.5" stroke-width="1.2"/>
<line x1="1256.0" y1="678.3" x2="1334.8" y2="678.3" stroke="#000" stroke-width="1.8"/>
<circle cx="1295.4" cy="678.3" r="8.0" fill="#fff" stroke="#00f" stroke-width="2.7"/>
</svg></body></html>
